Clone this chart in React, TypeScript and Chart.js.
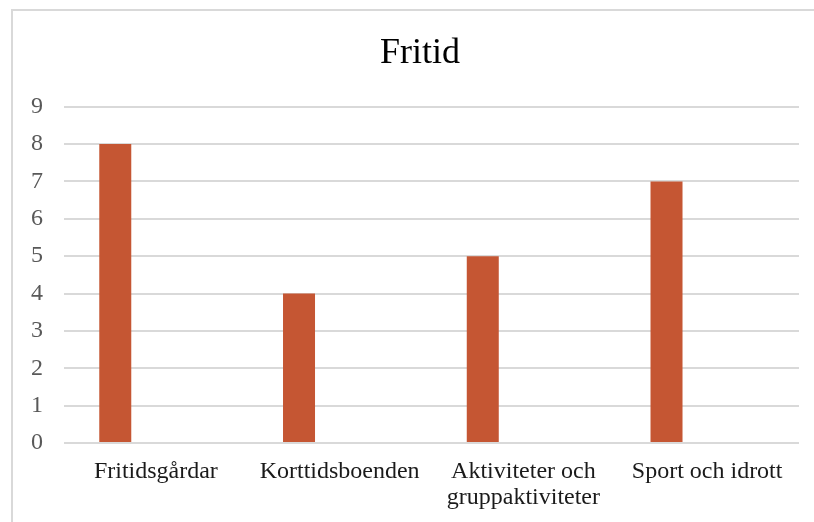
import React, { useEffect, useRef } from "react";
import { Chart, registerables } from "chart.js";

Chart.register(...registerables);

const categories: (string | string[])[] = [
  "Fritidsgårdar",
  "Korttidsboenden",
  ["Aktiviteter och", "gruppaktiviteter"],
  "Sport och idrott",
];
const seriesValues: number[] = [8, 4, 5, 7];
const emptySeries: (number | null)[] = [null, null, null, null];
const yTicks: number[] = [0, 1, 2, 3, 4, 5, 6, 7, 8, 9];

const FONT = '"Liberation Serif", "Times New Roman", serif';

// The title is centred on the whole chart frame (which extends past the
// right edge of the picture), not on the plot area.
const titleCentering = {
  id: "titleCentering",
  afterLayout(chart: any) {
    if (chart.titleBlock) {
      chart.titleBlock.left = 41;
    }
  },
};

export default function App() {
  const ref = useRef<HTMLCanvasElement | null>(null);

  useEffect(() => {
    if (!ref.current) return;
    const chart = new Chart(ref.current, {
      type: "bar",
      data: {
        labels: categories,
        datasets: [
          {
            label: "Serie 1",
            data: seriesValues,
            backgroundColor: "#C55633",
            borderWidth: 0,
            categoryPercentage: 0.884,
            barPercentage: 0.394,
          },
          {
            label: "Serie 2",
            data: emptySeries,
            backgroundColor: "#A5A5A5",
            borderWidth: 0,
            categoryPercentage: 0.884,
            barPercentage: 0.394,
          },
        ],
      },
      options: {
        responsive: false,
        animation: false,
        layout: { padding: { left: 0, right: 15, top: 0, bottom: 0 } },
        plugins: {
          legend: { display: false },
          tooltip: { enabled: false },
          title: {
            display: true,
            text: "Fritid",
            color: "#000000",
            font: { family: FONT, size: 36, weight: "normal", lineHeight: 1.2 },
            padding: { top: 32, bottom: 31.5 },
          },
        },
        scales: {
          x: {
            grid: { display: false, drawTicks: false },
            border: { display: false },
            ticks: {
              color: "#1a1a1a",
              font: { family: FONT, size: 24, lineHeight: 1.083 },
              padding: 16,
              maxRotation: 0,
              autoSkip: false,
            },
            afterFit: (scale: any) => {
              scale.height = 79;
            },
          },
          y: {
            min: 0,
            max: 9,
            afterBuildTicks: (scale: any) => {
              scale.ticks = yTicks.map((v) => ({ value: v }));
            },
            grid: { color: "#d9d9d9", lineWidth: 2, drawTicks: false },
            border: { display: false },
            ticks: {
              color: "#595959",
              font: { family: FONT, size: 24 },
              padding: 21,
              stepSize: 1,
            },
            afterFit: (scale: any) => {
              scale.width = 64;
            },
          },
        },
      },
      plugins: [titleCentering],
    });
    return () => chart.destroy();
  }, []);

  return (
    <div
      style={{
        position: "fixed",
        left: 0,
        top: 0,
        width: 814,
        height: 522,
        overflow: "hidden",
        background: "#ffffff",
      }}
    >
      <div
        style={{
          position: "absolute",
          left: 11,
          top: 9,
          width: 900,
          height: 600,
          border: "2px solid #d9d9d9",
          boxSizing: "border-box",
        }}
      />
      <canvas
        ref={ref}
        width={814}
        height={522}
        style={{ position: "absolute", left: 0, top: 0 }}
      />
    </div>
  );
}
